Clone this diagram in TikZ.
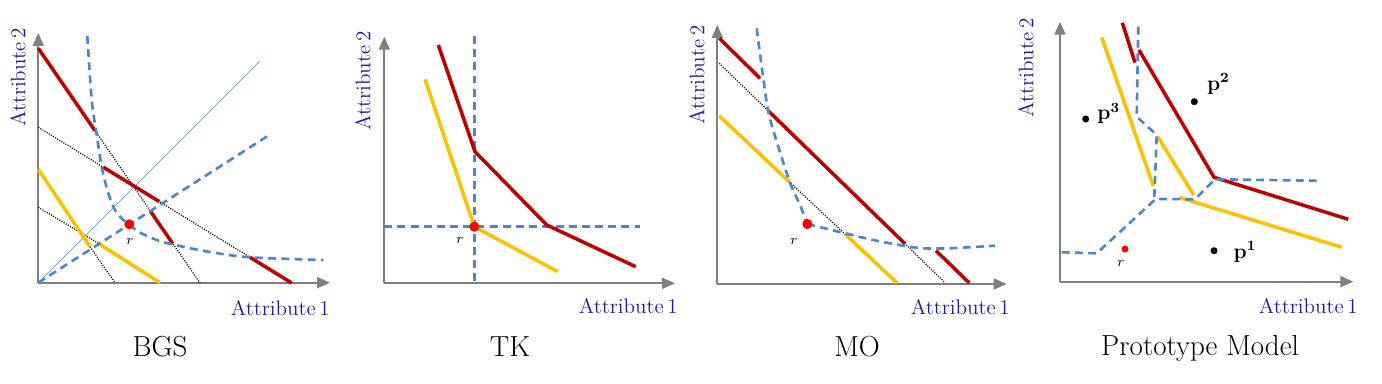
\documentclass[tikz,border=0pt]{standalone}
\usepackage{amsmath,amssymb}
\usepackage{xcolor}
\usepackage{tikz}
\usetikzlibrary{arrows.meta,calc}
\definecolor{cRed}{HTML}{C00000}
\definecolor{cYel}{HTML}{FFC000}
\definecolor{cBlue}{HTML}{4F86C6}
\definecolor{cAxis}{HTML}{7F7F7F}
\definecolor{cLbl}{HTML}{1C1C96}
\definecolor{cDot}{HTML}{FF0000}
\tikzset{
  axisln/.style={-{Triangle[length=2.6mm,width=2.2mm]}, line width=1.1pt, draw=cAxis},
  redln/.style={draw=cRed, line width=2pt},
  yelln/.style={draw=cYel, line width=2pt},
  bluedash/.style={draw=cBlue, line width=1.5pt, dash pattern=on 4.5pt off 3pt},
  auxln/.style={draw=black, line width=0.7pt, dash pattern=on 0.6pt off 0.8pt},
  diagln/.style={draw=cBlue, line width=0.4pt},
  attr/.style={text=cLbl, font=\fontsize{12}{14}\selectfont, inner sep=0pt},
  ttl/.style={font=\fontsize{16.5}{19}\selectfont, inner sep=0pt, anchor=base},
  rlbl/.style={font=\fontsize{8}{9}\selectfont, inner sep=0pt},
  plbl/.style={font=\fontsize{12}{14}\selectfont, inner sep=0pt, anchor=base west},
  refdot/.style={circle, fill=cDot, inner sep=0pt, minimum size=#1},
  protodot/.style={circle, fill=black, inner sep=0pt, minimum size=1.4mm},
}
\begin{document}
\begin{tikzpicture}[x=0.02cm, y=-0.02cm]
  \useasboundingbox (0,0) rectangle (1382,384);

  % BGS
  \coordinate (o1) at (38.3,282.7);
  \draw[axisln] (o1) -- (38.3,33);
  \draw[axisln] (o1) -- (330,282.7);
  \draw[auxln] (38.3,127.3) -- (250,257.3);
  \draw[auxln] (95,130.7) -- (200,283);
  \draw[auxln] (90,246.7) -- (115,282.7);
  \draw[auxln] (38.3,207.3) -- (98.3,243.3);
  \draw[diagln] (o1) -- (259.3,61.7);
  \draw[redln] (38.3,48.3) -- (95,130.7);
  \draw[redln] (150,210.6) -- (172.7,243.6);
  \draw[redln] (103.3,167.2) -- (159.3,201.6);
  \draw[redln] (250,257.3) -- (291.7,283);
  \draw[yelln] (38.3,169.3) -- (90,246.7);
  \draw[yelln] (98.3,243.3) -- (160,282.7);
  \draw[bluedash] (o1) -- (267.7,136);
  \draw[bluedash] plot[smooth] coordinates {(87.3,36) (91.7,100) (96,130) (101.7,166.7)
    (108.3,193.3) (115,210) (123.3,220) (129.3,224.3) (138.3,231.7) (156.7,240)
    (175,245) (210,252) (250,257.3) (323.3,260)};
  \node[refdot=2mm] (r1) at (129.3,224.3) {};
  \node[rlbl] (rl1) at (130,241.7) {$r$};
  \node[attr, rotate=90] (ay1) at (18,77.5) {Attribute\,2};
  \node[attr, anchor=base east] (ax1) at (330,316) {Attribute\,1};
  \node[ttl] (tt1) at (160,356.5) {BGS};

  % TK
  \coordinate (o2) at (384.3,283.3);
  \draw[axisln] (o2) -- (384.3,36.7);
  \draw[axisln] (o2) -- (675,283.3);
  \draw[bluedash] (474.3,36) -- (474.3,283.3);
  \draw[bluedash] (384.3,226.7) -- (640,226.7);
  \draw[redln] (438.3,45) -- (475,151.7) -- (546.7,225) -- (635.7,266.7);
  \draw[yelln] (425,79.3) -- (474.3,226.7) -- (557.7,271.7);
  \node[refdot=2mm] (r2) at (474.3,226.7) {};
  \node[rlbl] (rl2) at (460,240) {$r$};
  \node[attr, rotate=90] (ay2) at (363,81) {Attribute\,2};
  \node[attr, anchor=base east] (ax2) at (678,313.5) {Attribute\,1};
  \node[ttl] (tt2) at (510,356.5) {TK};

  % MO
  \coordinate (o3) at (717.3,284);
  \draw[axisln] (o3) -- (717.3,25);
  \draw[axisln] (o3) -- (1006.7,284);
  \draw[auxln] (719.3,63.3) -- (945,282.7);
  \draw[auxln] (719.3,116) -- (897.3,283.3);
  \draw[redln] (719.3,38.3) -- (760,78.3);
  \draw[redln] (936,250.7) -- (969.3,283);
  \draw[redln] (768.3,110.9) -- (905,243.8);
  \draw[yelln] (719.3,116) -- (789.3,181.8);
  \draw[yelln] (845,234.1) -- (897.3,283.3);
  \draw[bluedash] plot[smooth] coordinates {(756.7,28.3) (761.7,66.7) (768.3,111.7)
    (778.3,146.7) (790,182.7) (800,205) (807.3,224)};
  \draw[bluedash] plot[smooth] coordinates {(807.3,224) (845,233.3) (873.3,240)
    (905,246) (923.3,248.3) (950,248.3) (995,245.7)};
  \node[refdot=2mm] (r3) at (807.3,224) {};
  \node[rlbl] (rl3) at (794,241.7) {$r$};
  \node[attr, rotate=90] (ay3) at (697,75) {Attribute\,2};
  \node[attr, anchor=base east] (ax3) at (1010,315) {Attribute\,1};
  \node[ttl] (tt3) at (857,356.5) {MO};

  % Prototype Model
  \coordinate (o4) at (1060,281.7);
  \draw[axisln] (o4) -- (1060,21.7);
  \draw[axisln] (o4) -- (1353.3,281.7);
  \draw[redln] (1122.3,22.7) -- (1135,62.7);
  \draw[redln] (1139,50) -- (1214,177.3) -- (1348.3,219.3);
  \draw[yelln] (1101.7,37.3) -- (1153.3,186);
  \draw[yelln] (1157.7,136.7) -- (1193.7,195);
  \draw[yelln] (1179,197.3) -- (1341.7,247.3);
  \draw[bluedash] (1061.7,252.3) -- (1096.7,253.3) -- (1155.7,199) -- (1195,199.3)
    -- (1215,179.3) -- (1316.7,180.7);
  \draw[bluedash] (1154.3,197) -- (1156.7,135) -- (1136.7,116.7) -- (1138.3,26);
  \node[protodot] (p3) at (1085.7,119) {};
  \node[protodot] (p2) at (1194.3,101.7) {};
  \node[protodot] (p1) at (1214,250.7) {};
  \node[plbl] (pl3) at (1097,120) {$\mathbf{p}^{\mathbf{3}}$};
  \node[plbl] (pl2) at (1206.7,90.5) {$\mathbf{p}^{\mathbf{2}}$};
  \node[plbl] (pl1) at (1233.3,258.3) {$\mathbf{p}^{\mathbf{1}}$};
  \node[refdot=1.4mm] (r4) at (1125,249) {};
  \node[rlbl] (rl4) at (1121,263.3) {$r$};
  \node[attr, rotate=90] (ay4) at (1026,68) {Attribute\,2};
  \node[attr, anchor=base east] (ax4) at (1358,314) {Attribute\,1};
  \node[ttl] (tt4) at (1200,356) {Prototype Model};
\end{tikzpicture}
\end{document}
